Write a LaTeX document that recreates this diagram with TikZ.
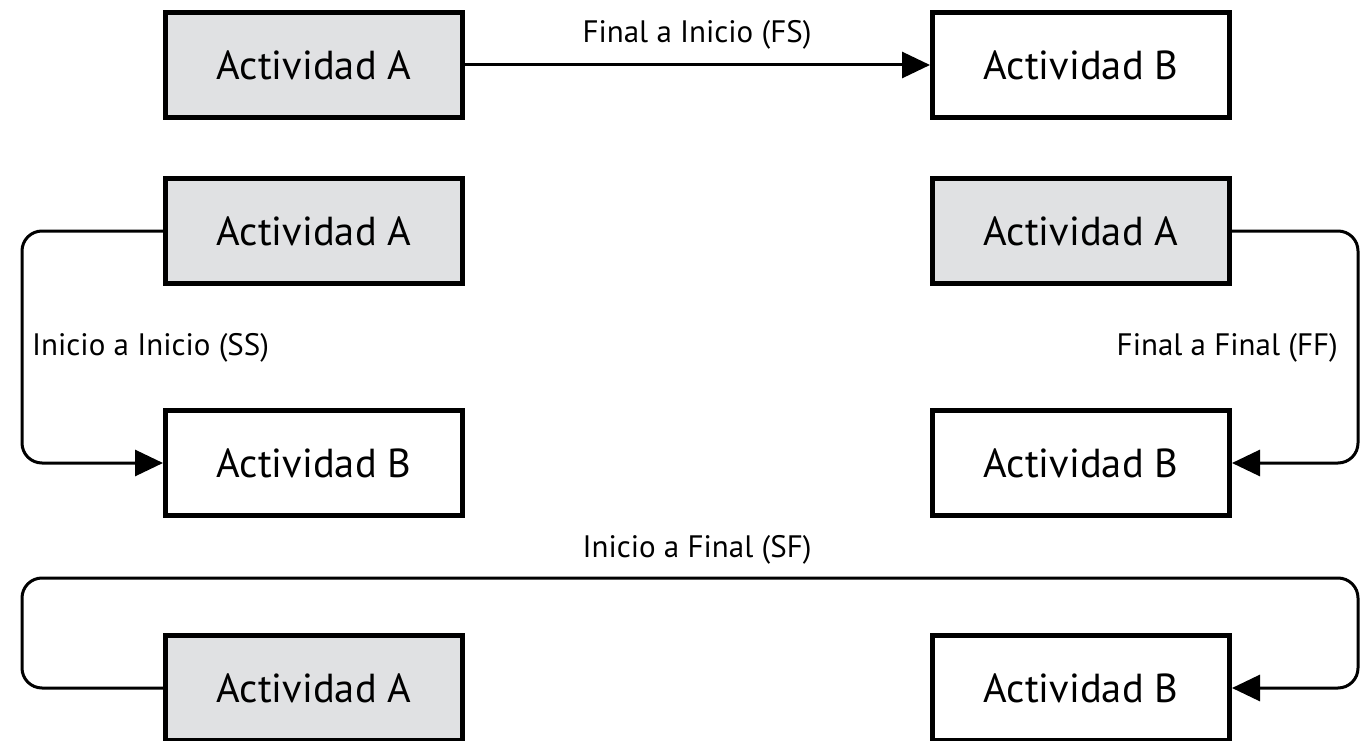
\documentclass[tikz,border=0pt]{standalone}
\usepackage{fontspec}
\setmainfont{PT Sans}
\usepackage{tikz}
\usetikzlibrary{arrows.meta}

\definecolor{actgray}{RGB}{224,225,227}

\tikzset{
  act/.style={draw, line width=5pt, minimum width=297pt, minimum height=105pt,
              inner sep=0pt, font=\fontsize{40.5}{46}\selectfont},
  actA/.style={act, fill=actgray},
  actB/.style={act, fill=white},
  link/.style={line width=3pt, rounded corners=20pt,
               -{Triangle[length=28pt,width=26pt]}},
  lbl/.style={font=\fontsize{31}{36}\selectfont, inner sep=0pt}
}

\begin{document}
\begin{tikzpicture}[x=1pt,y=-1pt]

\useasboundingbox (0,0) rectangle (1361,741);

\coordinate (L) at (22,0);
\coordinate (R) at (1358,0);
\coordinate (T) at (0,578);

% activities
\foreach \n/\x/\y in {A1/314/65, A2/314/231, A4/314/688, A3/1081/231}
    \node [actA] (\n) at (\x,\y) {Actividad A};

\foreach \n/\x/\y in {B1/1081/65, B2/314/463, B4/1081/688, B3/1081/463}
    \node [actB] (\n) at (\x,\y) {Actividad B};

% links
\draw [link] (A1.east) -- (B1.west);
\draw [link] (A2.west) -- (A2.west -| L) -- (B2.west -| L) -- (B2.west);
\draw [link] (A3.east) -- (A3.east -| R) -- (B3.east -| R) -- (B3.east);
\draw [link] (A4.west) -- (A4.west -| L) -- (L |- T) -- (R |- T)
    -- (B4.east -| R) -- (B4.east);

\node [lbl] (fs) at (697,35) {Final a Inicio (FS)};
\node [lbl, anchor=west] (ss) at (32,348) {Inicio a Inicio (SS)};
\node [lbl, anchor=east] (ff) at (1338,348) {Final a Final (FF)};
\node [lbl] (sf) at (697,550) {Inicio a Final (SF)};

\end{tikzpicture}
\end{document}
